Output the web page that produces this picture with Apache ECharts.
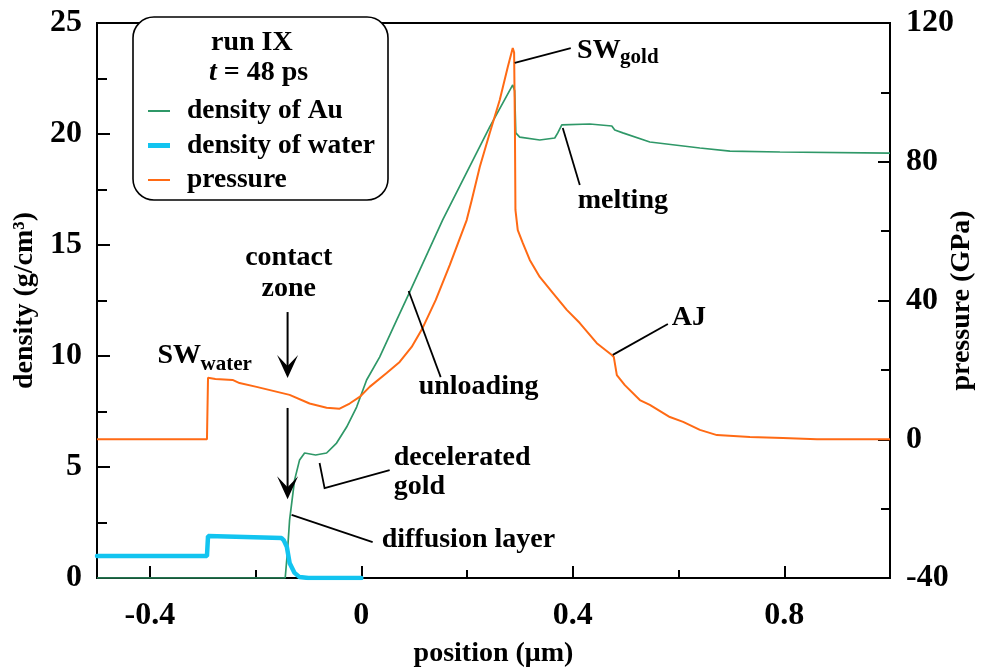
<!DOCTYPE html>
<html>
<head>
<meta charset="utf-8">
<title>run IX, t = 48 ps</title>
<script src="https://cdn.jsdelivr.net/npm/echarts@6/dist/echarts.min.js"></script>
<style>
  html, body { margin: 0; padding: 0; background: #fff; }
  #chart { width: 982px; height: 668px; }
</style>
</head>
<body>
<div id="chart"></div>
<script>
// Gold density profile (position in µm, density in g/cm³)
const auPosition = [-0.5, -0.144, -0.1395, -0.1357, -0.1263, -0.1168, -0.1073, -0.0865, -0.0657, -0.0468, -0.0278,
  -0.0089, 0.0100, 0.0346, 0.0668, 0.0914, 0.1539, 0.2429, 0.2864, 0.2900, 0.2921, 0.2996, 0.3375, 0.3659,
  0.3716, 0.3792, 0.4321, 0.4738, 0.4794, 0.4946, 0.5457, 0.6404, 0.6972, 0.7918, 1.0];
const auDensity = [0, 0, 1.26, 2.61, 4.41, 5.32, 5.63, 5.54, 5.63, 6.08, 6.80,
  7.70, 8.92, 9.95, 11.62, 12.88, 16.13, 20.32, 22.21, 21.95, 20.05, 19.86, 19.73, 19.82,
  20.05, 20.41, 20.45, 20.36, 20.18, 20.05, 19.64, 19.37, 19.23, 19.19, 19.14];

// Water density profile
const waterPosition = [-0.5, -0.292, -0.290, -0.1509, -0.147, -0.1409, -0.1357, -0.1263, -0.1168, -0.100, 0];
const waterDensity = [0.99, 0.99, 1.89, 1.80, 1.71, 1.40, 0.68, 0.23, 0.04, 0, 0];

// Pressure profile (GPa)
const pressurePosition = [-0.5, -0.292, -0.290, -0.276, -0.2436, -0.2304, -0.1982, -0.1357, -0.0979, -0.0657,
  -0.0411, -0.0221, -0.0032, 0.0157, 0.0479, 0.0725, 0.0952, 0.1160, 0.1406, 0.1672, 0.1993, 0.2088, 0.2240,
  0.2429, 0.2618, 0.2770, 0.2864, 0.2890, 0.2905, 0.2915, 0.2959, 0.3053, 0.3186, 0.3375, 0.3621,
  0.3886, 0.4132, 0.4454, 0.4738, 0.4776, 0.4833, 0.4984, 0.5268, 0.5457, 0.5836, 0.6087, 0.6404,
  0.6726, 0.7350, 0.7974, 0.8619, 1.0];
const pressureGPa = [0, 0, 17.7, 17.4, 17.1, 16.2, 15.1, 12.8, 10.3, 9.1,
  8.8, 10.3, 12.2, 15.1, 19.1, 22.3, 26.6, 32.1, 40.1, 50.2, 63.2, 68.9, 78.5,
  88.3, 97.8, 107.3, 112.8, 111.5, 90.0, 66.1, 60.3, 56.6, 51.7, 46.8, 42.2,
  37.3, 33.5, 27.7, 24.3, 23.7, 18.5, 15.6, 11.3, 9.9, 6.4, 5.0, 2.7,
  1.2, 0.65, 0.35, 0, 0];

// Axis ranges, labels and ticks
const xRange = [-0.5, 1.0];
const xMajorTicks = [-0.4, 0, 0.4, 0.8];
const xMinorTicks = [-0.2, 0.2, 0.6];
const densityRange = [0, 25, 5];
const pressureRange = [-40, 120, 40];

const seriesNames = ['density of Au', 'density of water', 'pressure'];

const FONT = '"Liberation Serif", "Times New Roman", serif';
const GREEN = '#2f9868';
const CYAN = '#12c4f0';
const ORANGE = '#ff6a14';
const INK = '#000';

const tickLabel = { fontFamily: FONT, fontWeight: 'bold', fontSize: 32, color: INK };
const nameLabel = { fontFamily: FONT, fontWeight: 'bold', fontSize: 28, color: INK };
const textFont = 'bold 28px ' + FONT;
const subFont = 'bold 21px ' + FONT;
const tickLine = { color: INK, width: 2 };

const zip = (xs, ys) => xs.map((x, i) => [x, ys[i]]);

const chart = echarts.init(document.getElementById('chart'));

chart.setOption({
  animation: false,
  backgroundColor: '#fff',
  grid: {
    left: 97, right: 92, top: 23, bottom: 90, containLabel: false, outerBoundsMode: 'none',
    show: true, borderColor: INK, borderWidth: 2
  },
  xAxis: [
    {
      type: 'value', min: xRange[0], max: xRange[1], position: 'bottom',
      name: 'position (μm)', nameLocation: 'middle', nameGap: 62, nameMoveOverlap: false, nameTextStyle: nameLabel,
      axisLine: { show: true, onZero: false, lineStyle: { color: INK, width: 2 } },
      axisTick: { show: true, inside: true, length: 12, lineStyle: tickLine, customValues: xMajorTicks },
      axisLabel: Object.assign({ margin: 22, customValues: xMajorTicks }, tickLabel),
      splitLine: { show: false }
    },
    {
      // second bottom axis carrying the shorter intermediate ticks
      type: 'value', min: xRange[0], max: xRange[1], position: 'bottom',
      axisLine: { show: false, onZero: false },
      axisTick: { show: true, inside: true, length: 8, lineStyle: tickLine, customValues: xMinorTicks },
      axisLabel: { show: false },
      splitLine: { show: false }
    }
  ],
  yAxis: [
    {
      type: 'value', min: densityRange[0], max: densityRange[1], interval: densityRange[2], position: 'left',
      name: 'density (g/cm³)', nameLocation: 'middle', nameRotate: 90, nameGap: 58, nameMoveOverlap: false,
      nameTextStyle: nameLabel,
      axisLine: { show: true, onZero: false, lineStyle: { color: INK, width: 2 } },
      axisTick: { show: true, inside: true, length: 13, lineStyle: tickLine },
      minorTick: { show: true, splitNumber: 2, length: 10, lineStyle: tickLine },
      axisLabel: Object.assign({ margin: 15 }, tickLabel),
      splitLine: { show: false }, minorSplitLine: { show: false }
    },
    {
      type: 'value', min: pressureRange[0], max: pressureRange[1], interval: pressureRange[2], position: 'right',
      name: 'pressure (GPa)', nameLocation: 'middle', nameRotate: 90, nameGap: 58, nameMoveOverlap: false,
      nameTextStyle: nameLabel,
      axisLine: { show: true, onZero: false, lineStyle: { color: INK, width: 2 } },
      axisTick: { show: true, inside: true, length: 12, lineStyle: tickLine },
      minorTick: { show: true, splitNumber: 2, length: 9, lineStyle: tickLine },
      axisLabel: Object.assign({ margin: 16 }, tickLabel),
      splitLine: { show: false }, minorSplitLine: { show: false }
    }
  ],
  legend: {
    orient: 'vertical', left: 143, top: 92, z: 10,
    itemWidth: 22, itemHeight: 14, itemGap: 6.5, symbolKeepAspect: true,
    formatter: name => '{t|' + name + '}',
    textStyle: {
      fontFamily: FONT, fontWeight: 'bold', fontSize: 28, color: INK, lineHeight: 28,
      rich: { t: { fontFamily: FONT, fontWeight: 'bold', fontSize: 27.5, color: INK, lineHeight: 28, padding: [0, 0, 0, 12] } }
    },
    data: [
      { name: seriesNames[0], icon: 'path://M0,0H22V2H0Z', itemStyle: { color: GREEN, borderWidth: 0 } },
      { name: seriesNames[1], icon: 'path://M0,0H22V5H0Z', itemStyle: { color: CYAN, borderWidth: 0 } },
      { name: seriesNames[2], icon: 'path://M0,0H22V2H0Z', itemStyle: { color: ORANGE, borderWidth: 0 } }
    ]
  },
  series: [
    {
      name: seriesNames[0], type: 'line', xAxisIndex: 0, yAxisIndex: 0,
      data: zip(auPosition, auDensity), symbol: 'none', showSymbol: false,
      lineStyle: { color: GREEN, width: 1.7 }, itemStyle: { color: GREEN }, z: 2
    },
    {
      name: seriesNames[1], type: 'line', xAxisIndex: 0, yAxisIndex: 0,
      data: zip(waterPosition, waterDensity), symbol: 'none', showSymbol: false,
      lineStyle: { color: CYAN, width: 4.5, cap: 'round' }, itemStyle: { color: CYAN }, z: 3
    },
    {
      name: seriesNames[2], type: 'line', xAxisIndex: 0, yAxisIndex: 1,
      data: zip(pressurePosition, pressureGPa), symbol: 'none', showSymbol: false,
      lineStyle: { color: ORANGE, width: 2 }, itemStyle: { color: ORANGE }, z: 4
    }
  ]
});

const toPx = (p) => chart.convertToPixel({ xAxisIndex: 0, yAxisIndex: 0 }, p);

// Annotations, anchored in (position, density) coordinates
const leaders = [
  [[0.2902, 23.20], [0.3962, 23.87]],                    // SW gold
  [[0.3810, 20.27], [0.4132, 17.70]],                    // melting
  [[0.4757, 10.05], [0.5798, 11.44]],                    // AJ
  [[0.0895, 12.93], [0.1501, 9.05]],                     // unloading
  [[-0.0790, 5.18], [-0.0695, 4.05], [0.0536, 4.86]],    // decelerated gold
  [[-0.1319, 2.84], [0.0214, 1.62]]                      // diffusion layer
];

const labels = [
  { text: 'melting', at: [0.4094, 17.00], align: 'left' },
  { text: 'AJ', at: [0.5874, 11.73], align: 'left' },
  { text: 'unloading', at: [0.1085, 8.63], align: 'left' },
  { text: 'decelerated', at: [0.0611, 5.42], align: 'left' },
  { text: 'gold', at: [0.0611, 4.12], align: 'left' },
  { text: 'diffusion layer', at: [0.0384, 1.71], align: 'left' },
  { text: 'contact', at: [-0.1374, 14.41], align: 'center' },
  { text: 'zone', at: [-0.1374, 13.04], align: 'center' }
];

const shockLabels = [
  { sub: 'gold', at: [0.4081, 23.76], drop: 7 },
  { sub: 'water', at: [-0.3856, 10.02], drop: 9 }
];

const arrows = [
  { x: -0.1395, from: 11.98, to: 9.01 },
  { x: -0.1395, from: 7.66, to: 3.55 }
];

const g = [];

// legend frame and heading
g.push({
  type: 'rect', z: 5, shape: { x: 133, y: 17, width: 255, height: 183, r: 21 },
  style: { fill: '#fff', stroke: INK, lineWidth: 1.6 }
});
g.push({
  type: 'text', z: 11,
  style: { text: 'run IX', x: 211, y: 42.5, font: textFont, fill: INK, align: 'left', verticalAlign: 'middle' }
});
g.push({
  type: 'text', z: 11,
  style: {
    text: '{i|t} = 48 ps', x: 209, y: 72.5, font: textFont, fill: INK, align: 'left', verticalAlign: 'middle',
    rich: { i: { fontFamily: FONT, fontWeight: 'bold', fontStyle: 'italic', fontSize: 28, fill: INK } }
  }
});

leaders.forEach(pts => {
  g.push({
    type: 'polyline', z: 6, shape: { points: pts.map(toPx) },
    style: { stroke: INK, lineWidth: 1.8, fill: null }
  });
});

labels.forEach(l => {
  const [x, y] = toPx(l.at);
  g.push({
    type: 'text', z: 7,
    style: { text: l.text, x, y, font: textFont, fill: INK, align: l.align, verticalAlign: 'middle' }
  });
});

shockLabels.forEach(s => {
  const [x, y] = toPx(s.at);
  g.push({ type: 'text', z: 7, style: { text: 'SW', x, y, font: textFont, fill: INK, align: 'left', verticalAlign: 'middle' } });
  g.push({ type: 'text', z: 7, style: { text: s.sub, x: x + 43, y: y + s.drop, font: subFont, fill: INK, align: 'left', verticalAlign: 'middle' } });
});

arrows.forEach(a => {
  const [x0, y0] = toPx([a.x, a.from]);
  const [x1, y1] = toPx([a.x, a.to]);
  g.push({ type: 'line', z: 6, shape: { x1: x0, y1: y0, x2: x1, y2: y1 - 10 }, style: { stroke: INK, lineWidth: 2 } });
  g.push({
    type: 'polygon', z: 6,
    shape: { points: [[x1, y1], [x1 - 10.5, y1 - 23], [x1, y1 - 12], [x1 + 10.5, y1 - 23]] },
    style: { fill: INK }
  });
});

chart.setOption({ graphic: g });
</script>
</body>
</html>
